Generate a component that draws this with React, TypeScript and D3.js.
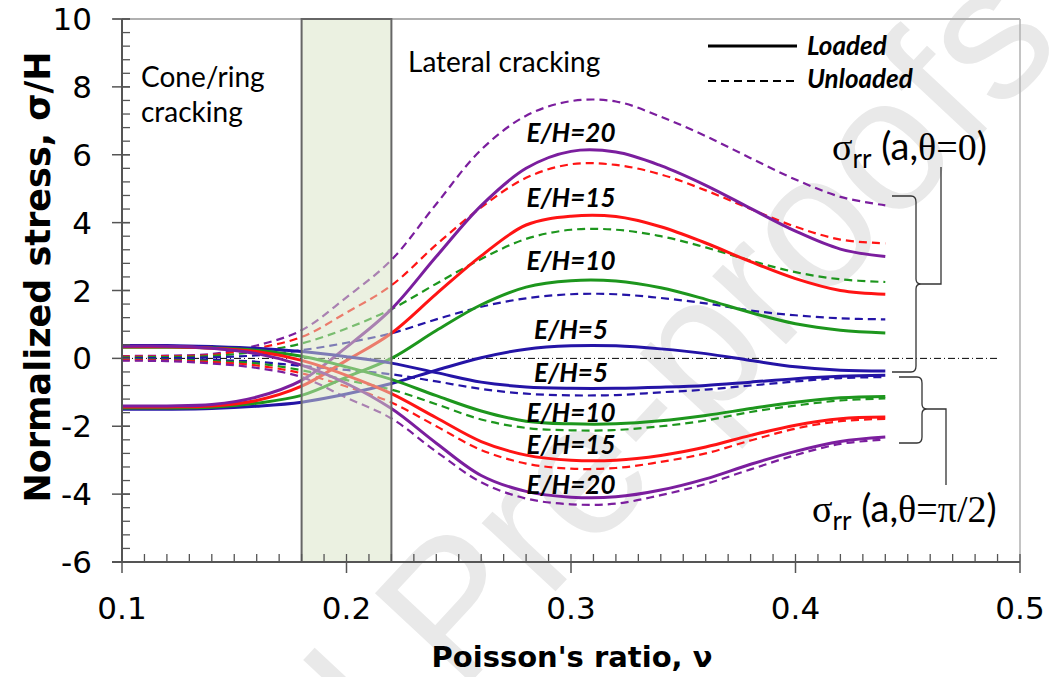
import { useEffect, useRef } from "react";
import * as d3 from "d3";

// Poisson's ratio sample points
const nu = [0.1, 0.12, 0.14, 0.16, 0.18, 0.2, 0.22, 0.24, 0.26, 0.28, 0.3, 0.32, 0.34, 0.36, 0.38, 0.4, 0.42, 0.44];

// sigma_rr(a, theta=0) / H
const t0Loaded20 = [-1.4, -1.4, -1.36, -1.14, -0.65, 0.33, 1.45, 3.0, 4.5, 5.6, 6.1, 6.08, 5.68, 5.1, 4.42, 3.75, 3.22, 3.0];
const t0Unloaded20 = [0.07, 0.08, 0.13, 0.38, 0.83, 1.8, 2.9, 4.55, 6.15, 7.15, 7.58, 7.57, 7.12, 6.55, 5.9, 5.27, 4.76, 4.51];
const t0Loaded15 = [-1.43, -1.43, -1.4, -1.24, -0.82, -0.06, 0.74, 1.9, 3.02, 3.93, 4.19, 4.18, 3.88, 3.4, 2.85, 2.35, 2.0, 1.89];
const t0Unloaded15 = [0.05, 0.06, 0.1, 0.3, 0.63, 1.35, 2.15, 3.35, 4.45, 5.32, 5.72, 5.7, 5.42, 4.95, 4.4, 3.88, 3.5, 3.39];
const t0Loaded10 = [-1.46, -1.46, -1.44, -1.32, -1.09, -0.55, 0.0, 0.82, 1.58, 2.1, 2.29, 2.28, 2.08, 1.74, 1.35, 1.02, 0.83, 0.75];
const t0Unloaded10 = [0.03, 0.04, 0.07, 0.2, 0.44, 0.88, 1.45, 2.2, 2.93, 3.52, 3.79, 3.79, 3.6, 3.27, 2.88, 2.54, 2.33, 2.25];
const t0Loaded5 = [-1.5, -1.5, -1.48, -1.41, -1.29, -1.05, -0.74, -0.35, 0.02, 0.27, 0.37, 0.37, 0.28, 0.14, -0.06, -0.25, -0.35, -0.37];
const t0Unloaded5 = [0.01, 0.01, 0.03, 0.09, 0.24, 0.46, 0.74, 1.15, 1.52, 1.77, 1.89, 1.89, 1.78, 1.62, 1.41, 1.27, 1.18, 1.15];

// sigma_rr(a, theta=pi/2) / H
const t90Loaded5 = [0.38, 0.38, 0.35, 0.3, 0.2, 0.05, -0.14, -0.42, -0.7, -0.84, -0.88, -0.88, -0.85, -0.8, -0.7, -0.6, -0.53, -0.5];
const t90Unloaded5 = [-0.01, -0.01, -0.04, -0.1, -0.22, -0.34, -0.47, -0.68, -0.9, -1.04, -1.09, -1.08, -1.0, -0.92, -0.8, -0.68, -0.58, -0.55];
const t90Loaded10 = [0.33, 0.33, 0.31, 0.24, 0.06, -0.25, -0.62, -1.1, -1.55, -1.85, -1.93, -1.93, -1.84, -1.68, -1.48, -1.29, -1.16, -1.12];
const t90Unloaded10 = [-0.03, -0.04, -0.08, -0.15, -0.35, -0.64, -0.92, -1.35, -1.8, -2.05, -2.12, -2.11, -2.0, -1.83, -1.58, -1.39, -1.24, -1.18];
const t90Loaded15 = [0.34, 0.34, 0.3, 0.2, -0.06, -0.5, -1.04, -1.75, -2.45, -2.85, -3.0, -3.0, -2.86, -2.61, -2.27, -1.97, -1.78, -1.73];
const t90Unloaded15 = [-0.05, -0.06, -0.11, -0.21, -0.44, -0.83, -1.3, -2.0, -2.7, -3.1, -3.25, -3.23, -3.05, -2.8, -2.42, -2.07, -1.85, -1.78];
const t90Loaded20 = [0.36, 0.36, 0.3, 0.14, -0.2, -0.74, -1.48, -2.5, -3.45, -3.92, -4.09, -4.08, -3.88, -3.55, -3.12, -2.74, -2.45, -2.32];
const t90Unloaded20 = [-0.07, -0.08, -0.15, -0.28, -0.55, -1.16, -1.77, -2.75, -3.65, -4.13, -4.3, -4.28, -4.03, -3.7, -3.27, -2.85, -2.52, -2.39];

const xTicks = [0.1, 0.2, 0.3, 0.4, 0.5];
const yTicks = [-6, -4, -2, 0, 2, 4, 6, 8, 10];

// curve labels: text and value where they sit (at nu = 0.30)
const upperLabels = ["E/H=20", "E/H=15", "E/H=10", "E/H=5"];
const upperLabelY = [6.63, 4.74, 2.86, 0.85];
const lowerLabels = ["E/H=5", "E/H=10", "E/H=15", "E/H=20"];
const lowerLabelY = [-0.44, -1.62, -2.56, -3.74];

const colors: Record<number, string> = {
  20: "#7b1e9e",
  15: "#ff1414",
  10: "#1d961d",
  5: "#2414a6",
};

export default function App() {
  const ref = useRef<SVGSVGElement>(null);

  useEffect(() => {
    document.body.style.margin = "0";
    const W = 1050;
    const H = 677;
    const svg = d3.select(ref.current).attr("width", W).attr("height", H);
    svg.selectAll("*").remove();

    const x = d3.scaleLinear().domain([0.1, 0.5]).range([122, 1020]);
    const y = d3.scaleLinear().domain([-6, 10]).range([562, 19]);

    svg.append("rect").attr("width", W).attr("height", H).attr("fill", "white");

    // watermark
    svg
      .append("text")
      .attr("transform", "translate(1065,45) rotate(-47)")
      .attr("text-anchor", "end")
      .style("font-family", "Liberation Sans, Arial, sans-serif")
      .style("font-size", "190px")
      .attr("fill", "#e9e9e9")
      .text("Journal Pre-proofs");

    // frame (top and right in light gray)
    svg.append("line").attr("x1", 113).attr("x2", x(0.5)).attr("y1", y(10)).attr("y2", y(10)).attr("stroke", "#b0b0b0").attr("stroke-width", 2);
    svg.append("line").attr("x1", x(0.5)).attr("x2", x(0.5)).attr("y1", y(10)).attr("y2", y(-6)).attr("stroke", "#b0b0b0").attr("stroke-width", 1.5);

    // zero dash-dot line
    svg
      .append("line")
      .attr("x1", x(0.1))
      .attr("x2", 998)
      .attr("y1", y(0))
      .attr("y2", y(0))
      .attr("stroke", "#000")
      .attr("stroke-width", 1)
      .attr("stroke-dasharray", "7,3,1,3");

    const series = [
      { v: t0Unloaded20, e: 20, dash: true },
      { v: t0Unloaded15, e: 15, dash: true },
      { v: t0Unloaded10, e: 10, dash: true },
      { v: t0Unloaded5, e: 5, dash: true },
      { v: t90Unloaded5, e: 5, dash: true },
      { v: t90Unloaded10, e: 10, dash: true },
      { v: t90Unloaded15, e: 15, dash: true },
      { v: t90Unloaded20, e: 20, dash: true },
      { v: t0Loaded5, e: 5, dash: false },
      { v: t0Loaded10, e: 10, dash: false },
      { v: t0Loaded15, e: 15, dash: false },
      { v: t0Loaded20, e: 20, dash: false },
      { v: t90Loaded5, e: 5, dash: false },
      { v: t90Loaded10, e: 10, dash: false },
      { v: t90Loaded15, e: 15, dash: false },
      { v: t90Loaded20, e: 20, dash: false },
    ];

    const line = d3
      .line<number>()
      .x((_, i) => x(nu[i]))
      .y((d) => y(d))
      .curve(d3.curveCatmullRom.alpha(0.5));

    svg
      .append("g")
      .selectAll("path")
      .data(series)
      .enter()
      .append("path")
      .attr("d", (s) => line(s.v))
      .attr("fill", "none")
      .attr("stroke", (s) => colors[s.e])
      .attr("stroke-width", (s) => (s.dash ? 2.2 : 3))
      .attr("stroke-dasharray", (s) => (s.dash ? "8,5" : null));

    // transition band 0.18 - 0.22 (semi-transparent over the curves)
    svg
      .append("rect")
      .attr("x", x(0.18))
      .attr("y", y(10))
      .attr("width", x(0.22) - x(0.18))
      .attr("height", y(-6) - y(10))
      .attr("fill", "#d7e4c3")
      .attr("fill-opacity", 0.5);
    svg
      .append("rect")
      .attr("x", x(0.18))
      .attr("y", y(10))
      .attr("width", x(0.22) - x(0.18))
      .attr("height", y(-6) - y(10))
      .attr("fill", "none")
      .attr("stroke", "#666")
      .attr("stroke-width", 2);

    // axes
    const axisColor = "#555";
    svg.append("line").attr("x1", x(0.1)).attr("x2", x(0.1)).attr("y1", y(10)).attr("y2", y(-6)).attr("stroke", axisColor).attr("stroke-width", 2);
    svg.append("line").attr("x1", x(0.1) - 10).attr("x2", x(0.5)).attr("y1", y(-6)).attr("y2", y(-6)).attr("stroke", axisColor).attr("stroke-width", 2);

    const yMinor = d3.range(-6, 10.001, 0.4);
    svg
      .append("g")
      .selectAll("line")
      .data(yMinor)
      .enter()
      .append("line")
      .attr("x1", x(0.1))
      .attr("x2", x(0.1) + 8)
      .attr("y1", (d) => y(d))
      .attr("y2", (d) => y(d))
      .attr("stroke", axisColor)
      .attr("stroke-width", 1.3);
    svg
      .append("g")
      .selectAll("line")
      .data(yTicks)
      .enter()
      .append("line")
      .attr("x1", x(0.1) - 10)
      .attr("x2", x(0.1) + 8)
      .attr("y1", (d) => y(d))
      .attr("y2", (d) => y(d))
      .attr("stroke", axisColor)
      .attr("stroke-width", 1.5);

    const xMinor = d3.range(0.1, 0.5001, 0.01);
    svg
      .append("g")
      .selectAll("line")
      .data(xMinor)
      .enter()
      .append("line")
      .attr("x1", (d) => x(d))
      .attr("x2", (d) => x(d))
      .attr("y1", y(-6))
      .attr("y2", y(-6) - 8)
      .attr("stroke", axisColor)
      .attr("stroke-width", 1.3);
    svg
      .append("g")
      .selectAll("line")
      .data(xTicks)
      .enter()
      .append("line")
      .attr("x1", (d) => x(d))
      .attr("x2", (d) => x(d))
      .attr("y1", y(-6))
      .attr("y2", y(-6) + 11)
      .attr("stroke", axisColor)
      .attr("stroke-width", 1.5);

    const tickFont = "DejaVu Sans, Verdana, sans-serif";
    svg
      .append("g")
      .selectAll("text")
      .data(yTicks)
      .enter()
      .append("text")
      .attr("x", 92)
      .attr("y", (d) => y(d) + 11)
      .attr("text-anchor", "end")
      .style("font-family", tickFont)
      .style("font-size", "31px")
      .attr("fill", "#000")
      .text((d) => d);
    svg
      .append("g")
      .selectAll("text")
      .data(xTicks)
      .enter()
      .append("text")
      .attr("x", (d) => x(d))
      .attr("y", 619)
      .attr("text-anchor", "middle")
      .style("font-family", tickFont)
      .style("font-size", "31px")
      .attr("fill", "#000")
      .text((d) => d.toFixed(1));

    // axis titles
    svg
      .append("text")
      .attr("transform", "translate(50,277) rotate(-90)")
      .attr("text-anchor", "middle")
      .style("font-family", tickFont)
      .style("font-weight", "bold")
      .style("font-size", "35px")
      .text("Normalized stress, σ/H");
    svg
      .append("text")
      .attr("x", 572)
      .attr("y", 667)
      .attr("text-anchor", "middle")
      .style("font-family", tickFont)
      .style("font-weight", "bold")
      .style("font-size", "29px")
      .text("Poisson's ratio, ν");

    // region annotations
    const noteFont = "Lato, Carlito, sans-serif";
    const notes = [
      { t: "Cone/ring", x: 141, y: 87 },
      { t: "cracking", x: 141, y: 122 },
      { t: "Lateral cracking", x: 408, y: 72 },
    ];
    svg
      .append("g")
      .selectAll("text")
      .data(notes)
      .enter()
      .append("text")
      .attr("x", (d) => d.x)
      .attr("y", (d) => d.y)
      .style("font-family", noteFont)
      .style("font-size", "28px")
      .text((d) => d.t);

    // legend
    svg.append("line").attr("x1", 708).attr("x2", 797).attr("y1", 46).attr("y2", 46).attr("stroke", "#000").attr("stroke-width", 3);
    svg
      .append("line")
      .attr("x1", 708)
      .attr("x2", 797)
      .attr("y1", 81)
      .attr("y2", 81)
      .attr("stroke", "#000")
      .attr("stroke-width", 2)
      .attr("stroke-dasharray", "8,5");
    const legendText = [
      { t: "Loaded", y: 55 },
      { t: "Unloaded", y: 88 },
    ];
    svg
      .append("g")
      .selectAll("text")
      .data(legendText)
      .enter()
      .append("text")
      .attr("x", 807)
      .attr("y", (d) => d.y)
      .style("font-family", noteFont)
      .style("font-weight", "bold")
      .style("font-style", "italic")
      .style("font-size", "26px")
      .text((d) => d.t);

    // E/H labels
    const labels = [
      ...upperLabels.map((t, i) => ({ t, v: upperLabelY[i] })),
      ...lowerLabels.map((t, i) => ({ t, v: lowerLabelY[i] })),
    ];
    svg
      .append("g")
      .selectAll("text")
      .data(labels)
      .enter()
      .append("text")
      .attr("x", x(0.3))
      .attr("y", (d) => y(d.v) + 9)
      .attr("text-anchor", "middle")
      .style("font-family", noteFont)
      .style("font-weight", "bold")
      .style("font-style", "italic")
      .style("font-size", "26px")
      .text((d) => d.t);

    // braces
    const braceColor = "#333";
    const brace = (x0: number, xs: number, top: number, tip: number, bottom: number) => {
      const p = d3.path();
      p.moveTo(x0, top);
      p.lineTo(xs - 5, top);
      p.quadraticCurveTo(xs, top, xs, top + 6);
      p.lineTo(xs, tip - 5);
      p.quadraticCurveTo(xs, tip, xs + 5, tip);
      p.quadraticCurveTo(xs, tip, xs, tip + 5);
      p.lineTo(xs, bottom - 6);
      p.quadraticCurveTo(xs, bottom, xs - 5, bottom);
      p.lineTo(x0, bottom);
      return p.toString();
    };
    svg.append("path").attr("d", brace(892, 916, 196, 284, 372)).attr("fill", "none").attr("stroke", braceColor).attr("stroke-width", 1.3);
    svg.append("path").attr("d", brace(899, 922, 377, 409, 443)).attr("fill", "none").attr("stroke", braceColor).attr("stroke-width", 1.3);
    svg.append("polyline").attr("points", "921,284 941,284 941,167").attr("fill", "none").attr("stroke", braceColor).attr("stroke-width", 1.3);
    svg.append("polyline").attr("points", "927,409 946,409 946,485").attr("fill", "none").attr("stroke", braceColor).attr("stroke-width", 1.3);

    // sigma_rr labels
    const sigmaLabel = (x0: number, y0: number, arg: string) => {
      const t = svg.append("text").attr("x", x0).attr("y", y0).style("font-size", "38px").attr("fill", "#000");
      t.append("tspan").style("font-family", "Liberation Serif, serif").text("σ");
      t.append("tspan").style("font-family", "Lato, sans-serif").style("font-size", "26px").attr("dy", 8).text("rr");
      t.append("tspan").style("font-family", "Lato, sans-serif").attr("dy", -8).text(" (a,");
      t.append("tspan").style("font-family", "Liberation Serif, serif").text(arg);
      t.append("tspan").style("font-family", "Lato, sans-serif").text(")");
    };
    sigmaLabel(832, 160, "θ=0");
    sigmaLabel(812, 522, "θ=π/2");
  }, []);

  return <svg ref={ref} style={{ display: "block" }} />;
}
